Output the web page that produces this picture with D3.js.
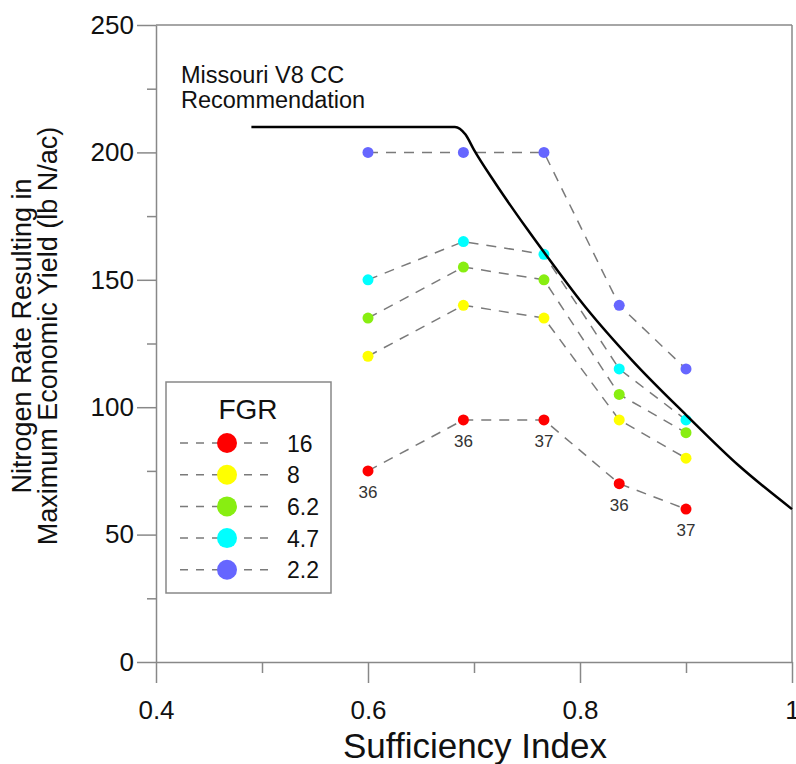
<!DOCTYPE html>
<html>
<head>
<meta charset="utf-8">
<script src="https://cdn.jsdelivr.net/npm/d3@7"></script>
<style>
  body { margin:0; background:#fff; }
  svg text { font-family: "Liberation Sans", Arial, sans-serif; }
</style>
</head>
<body>
<svg id="chart" width="796" height="764"></svg>
<script>
// sufficiency index of the five groups
var siValues = [0.6, 0.69, 0.766, 0.837, 0.9];
// N rate at max economic yield, one array per FGR
var fgr16 = [75, 95, 95, 70, 60];
var fgr8 = [120, 140, 135, 95, 80];
var fgr62 = [135, 155, 150, 105, 90];
var fgr47 = [150, 165, 160, 115, 95];
var fgr22 = [200, 200, 200, 140, 115];
var fgrNames = ['16', '8', '6.2', '4.7', '2.2'];
// number of sites under the red points
var siteCounts = [36, 36, 37, 36, 37];
// Missouri V8 CC recommendation curve
var recSI = [0.49, 0.682, 0.692, 0.70, 0.72, 0.75, 0.78, 0.80, 0.85, 0.90, 0.95, 1.0];
var recN = [210, 210, 207, 201, 188, 170, 153, 142, 118, 97, 77, 60];
// axis ticks
var xMajor = [0.4, 0.6, 0.8, 1.0];
var xMinor = [0.5, 0.7, 0.9];
var yMajor = [0, 50, 100, 150, 200, 250];
var yMinor = [25, 75, 125, 175, 225];

var series = [fgr16, fgr8, fgr62, fgr47, fgr22];
var palette = ['#ff0000', '#ffff00', '#88ee11', '#00ffff', '#6666ff'];
var axisGray = '#888';

var svg = d3.select('#chart');
var x = d3.scaleLinear().domain([0.4, 1]).range([156, 792]);
var y = d3.scaleLinear().domain([0, 250]).range([662, 25]);

// frame top + right
svg.append('line').attr('x1', x(0.4)).attr('x2', x(1)).attr('y1', y(250)).attr('y2', y(250))
  .attr('stroke', axisGray).attr('stroke-width', 1.5);
svg.append('line').attr('x1', x(1)).attr('x2', x(1)).attr('y1', y(250)).attr('y2', y(0))
  .attr('stroke', axisGray).attr('stroke-width', 1.5);

var styleAxis = function(g, size) {
  g.selectAll('path').attr('stroke', axisGray).attr('stroke-width', 1.5);
  g.selectAll('line').attr('stroke', axisGray).attr('stroke-width', 1.5);
  g.selectAll('text').attr('fill', '#111').style('font-size', size + 'px')
    .style('font-family', '"Liberation Sans", Arial, sans-serif');
}

var gx = svg.append('g').attr('transform', 'translate(0,' + y(0) + ')')
  .call(d3.axisBottom(x).tickValues(xMajor).tickSize(21).tickSizeOuter(0).tickPadding(18)
    .tickFormat(function(d) { return d == 1 ? '1' : d3.format('.1f')(d); }));
styleAxis(gx, 26);
var gxm = svg.append('g').attr('transform', 'translate(0,' + y(0) + ')')
  .call(d3.axisBottom(x).tickValues(xMinor).tickSize(11).tickSizeOuter(0).tickFormat(''));
styleAxis(gxm, 26);
gxm.select('.domain').remove();

var gy = svg.append('g').attr('transform', 'translate(' + x(0.4) + ',0)')
  .call(d3.axisLeft(y).tickValues(yMajor).tickSize(19).tickSizeOuter(0).tickPadding(3));
styleAxis(gy, 26);
var gym = svg.append('g').attr('transform', 'translate(' + x(0.4) + ',0)')
  .call(d3.axisLeft(y).tickValues(yMinor).tickSize(9).tickSizeOuter(0).tickFormat(''));
styleAxis(gym, 26);
gym.select('.domain').remove();

// axis titles
svg.append('text').attr('x', 475).attr('y', 758).attr('text-anchor', 'middle')
  .style('font-size', '35px').attr('fill', '#111').text('Sufficiency Index');
var yt = svg.append('text').attr('transform', 'translate(0,336) rotate(-90)')
  .attr('text-anchor', 'middle').style('font-size', '27px').attr('fill', '#111');
yt.append('tspan').attr('x', 0).attr('y', 31).text('Nitrogen Rate Resulting in');
yt.append('tspan').attr('x', 0).attr('y', 57).text('Maximum Economic Yield (lb N/ac)');

// dashed connectors
var connect = d3.line().x(function(d, i) { return x(siValues[i]); }).y(function(d) { return y(d); });
series.forEach(function(vals, k) {
  svg.append('path').attr('d', connect(vals)).attr('fill', 'none')
    .attr('stroke', '#7a7a7a').attr('stroke-width', 1.5).attr('stroke-dasharray', '10,8');
});

// points
series.forEach(function(vals, k) {
  svg.append('g').selectAll('circle').data(vals).enter().append('circle')
    .attr('cx', function(d, i) { return x(siValues[i]); })
    .attr('cy', function(d) { return y(d); })
    .attr('r', 5.5).attr('fill', palette[k]);
});

// site counts under red points
svg.append('g').selectAll('text').data(fgr16).enter().append('text')
  .attr('x', function(d, i) { return x(siValues[i]); })
  .attr('y', function(d) { return y(d) + 27; })
  .attr('text-anchor', 'middle').style('font-size', '17px').attr('fill', '#333')
  .text(function(d, i) { return siteCounts[i]; });

// recommendation curve
var recLine = d3.line().curve(d3.curveMonotoneX)
  .x(function(d, i) { return x(recSI[i]); }).y(function(d) { return y(d); });
svg.append('path').attr('d', recLine(recN)).attr('fill', 'none')
  .attr('stroke', '#000').attr('stroke-width', 2.5);

var note = svg.append('text').style('font-size', '23.5px').attr('fill', '#111');
note.append('tspan').attr('x', 181).attr('y', 83).text('Missouri V8 CC');
note.append('tspan').attr('x', 181).attr('y', 108).text('Recommendation');

// legend
var lg = svg.append('g');
lg.append('rect').attr('x', 166).attr('y', 382).attr('width', 165).attr('height', 211)
  .attr('fill', '#fff').attr('stroke', axisGray).attr('stroke-width', 1.5);
lg.append('text').attr('x', 248).attr('y', 419).attr('text-anchor', 'middle')
  .style('font-size', '28px').attr('fill', '#111').text('FGR');
fgrNames.forEach(function(name, k) {
  var ry = 443 + k * 31.7;
  lg.append('line').attr('x1', 180).attr('x2', 272).attr('y1', ry).attr('y2', ry)
    .attr('stroke', '#7a7a7a').attr('stroke-width', 1.5).attr('stroke-dasharray', '8,8');
  lg.append('circle').attr('cx', 227).attr('cy', ry).attr('r', 10).attr('fill', palette[k]);
  lg.append('text').attr('x', 287).attr('y', ry + 8.5).style('font-size', '23px')
    .attr('fill', '#111').text(name);
});
</script>
</body>
</html>
